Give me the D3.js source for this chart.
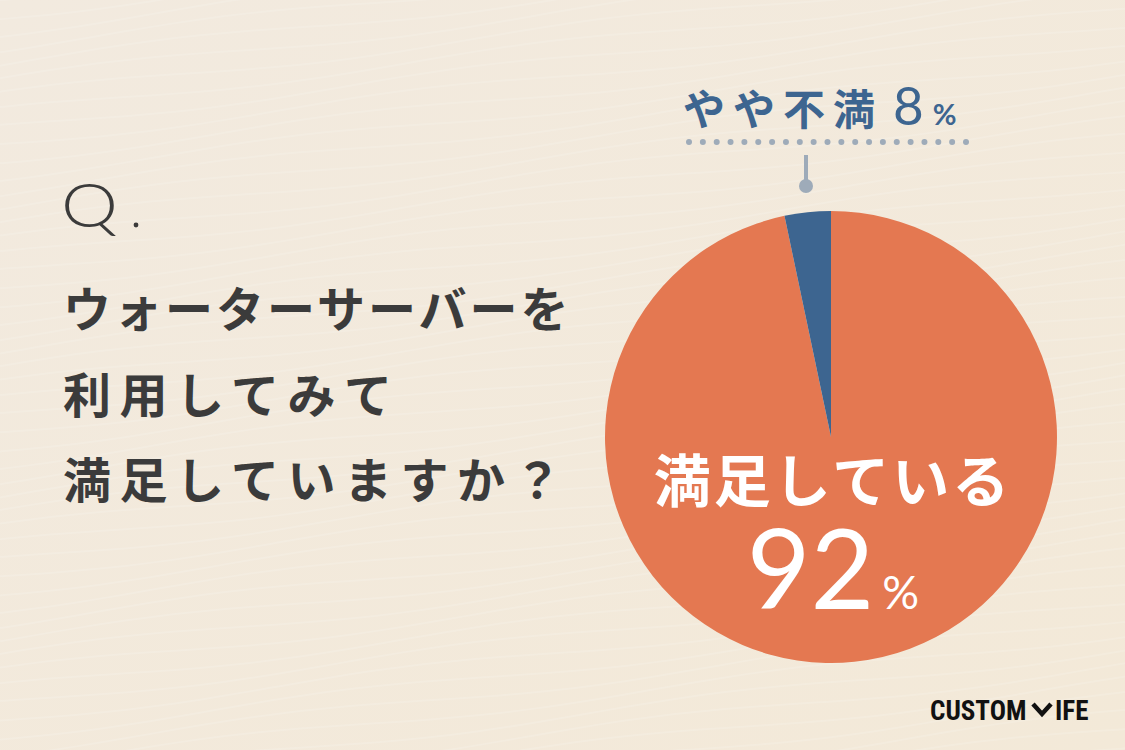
<!DOCTYPE html>
<html><head><meta charset="utf-8">
<script src="https://cdn.jsdelivr.net/npm/d3@7/dist/d3.min.js"></script>
<style>html,body{margin:0;padding:0;background:#f3eadc;overflow:hidden}</style>
</head><body><svg id="c" width="1125" height="750"></svg>
<script>
// ---- data ----
const categories = ["満足している", "やや不満"];
const labelPercents = [92, 8];            // percentages printed on the chart
const sliceShares = [96.7, 3.3];          // slice sizes as drawn in the picture
const colors = ["#e47851", "#3d6590"];
const questionLines = ["ウォーターサーバーを", "利用してみて", "満足していますか？"];

const svg = d3.select("#c");
// background
const defs = svg.append("defs");
const g1 = defs.append("linearGradient").attr("id","bg").attr("x1","0").attr("y1","0").attr("x2","1").attr("y2","1");
g1.append("stop").attr("offset","0").attr("stop-color","#f2eadf");
g1.append("stop").attr("offset","1").attr("stop-color","#f3e9d8");
svg.append("rect").attr("width",1125).attr("height",750).attr("fill","url(#bg)");
// subtle wave texture
const waves = svg.append("g").attr("fill","none").attr("stroke","#ffffff").attr("stroke-opacity",0.14).attr("stroke-width",2);
for (let i = -10; i < 60; i++) {
  const y0 = i * 16;
  const pts = d3.range(0, 1126, 25).map(x => [x, y0 - x*0.12 + 5*Math.sin(x/90 + i*0.7)]);
  waves.append("path").attr("d", d3.line().curve(d3.curveBasis)(pts));
}

// question text
const dark = "#3b3b3b";
svg.append("text").attr("transform","translate(61,227) scale(1.18,1)").attr("fill",dark)
  .style("font-family","Lato, 'Noto Sans'").style("font-weight",300).style("font-size","61px").text("Q");
svg.append("circle").attr("cx",136).attr("cy",225).attr("r",2.4).attr("fill",dark);
const qBase = [327, 413, 498];
const qSpacing = [3, 8.5, 8.5];
questionLines.forEach((t,i)=>{
  svg.append("text").attr("x",63).attr("y",qBase[i]).attr("fill",dark)
    .style("font-family","'Noto Sans CJK JP'").style("font-weight",700)
    .style("font-size","48px").style("letter-spacing",qSpacing[i]+"px").text(t);
});

// pie
const cx = 831, cy = 437, R = 226;
const pie = d3.pie().sort(null).value(d=>d.share);
const data = categories.map((c,i)=>({cat:c, share:sliceShares[i], pct:labelPercents[i], color:colors[i]}));
const arcs = pie(data);
const arc = d3.arc().innerRadius(0).outerRadius(R);
svg.append("g").attr("transform",`translate(${cx},${cy})`)
  .selectAll("path").data(arcs).join("path").attr("d",arc).attr("fill",d=>d.data.color);

// big label in orange slice
const main = data[0];
svg.append("text").attr("x",833).attr("y",502).attr("text-anchor","middle").attr("fill","#fff")
  .style("font-family","'Noto Sans CJK JP'").style("font-weight",700).style("font-size","57px").style("letter-spacing","3px")
  .text(main.cat);
const t92 = svg.append("text").attr("x",833).attr("y",609).attr("text-anchor","middle").attr("fill","#fff")
  .style("font-family","Lato, 'Noto Sans'").style("font-weight",400);
t92.append("tspan").style("font-size","110px").text(main.pct);
t92.append("tspan").attr("dx",8).style("font-size","46px").text("%");

// small slice label
const minor = data[1];
const blue = "#3d6590";
const tl = svg.append("text").attr("x",683).attr("y",125).attr("fill",blue)
  .style("font-family","'Noto Sans CJK JP'");
tl.append("tspan").style("font-weight",700).style("font-size","42px").style("letter-spacing","8px").text(minor.cat);
tl.append("tspan").attr("dx",10).style("font-family","Lato, 'Noto Sans'").style("font-weight",400).style("font-size","53px").text(minor.pct);
tl.append("tspan").attr("dx",9).style("font-family","Lato, 'Noto Sans'").style("font-weight",700).style("font-size","29px").text("%");

// dotted leader
const dotColor = "#9eabb9";
svg.append("g").selectAll("circle").data(d3.range(21)).join("circle")
  .attr("cx",d=>689 + d*13.85).attr("cy",142).attr("r",3).attr("fill",dotColor);
svg.append("line").attr("x1",806).attr("x2",806).attr("y1",155).attr("y2",184)
  .attr("stroke",dotColor).attr("stroke-width",4);
svg.append("circle").attr("cx",806).attr("cy",186).attr("r",7).attr("fill",dotColor);

// logo
const logo = svg.append("g").attr("fill","#111");
logo.append("text").attr("x",930).attr("y",720)
  .style("font-family","'Liberation Sans Narrow', 'Roboto Condensed', Roboto").style("font-weight",700).style("font-size","27px")
  .text("CUSTOM");
logo.append("path").attr("d","M1033,704 L1042,714 L1051,704").attr("fill","none").attr("stroke","#111").attr("stroke-width",4.5);
logo.append("text").attr("x",1055).attr("y",720)
  .style("font-family","'Liberation Sans Narrow', 'Roboto Condensed', Roboto").style("font-weight",700).style("font-size","27px")
  .text("IFE");
</script></body></html>
